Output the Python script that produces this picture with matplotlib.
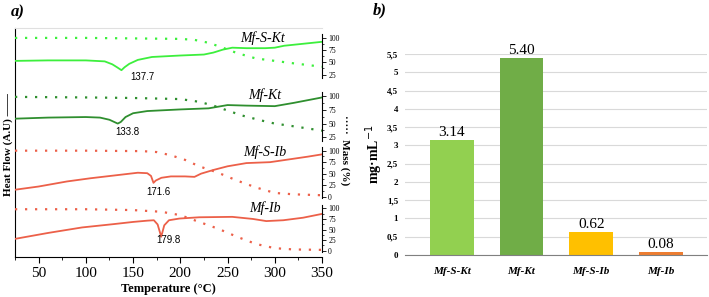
import numpy as np
import matplotlib.pyplot as plt
from matplotlib.ticker import MultipleLocator

plt.rcParams['font.family'] = ['Liberation Serif', 'DejaVu Serif']

# ---- panel a: DSC / TGA traces (T in °C) ----
samples = ['Mf-S-Kt', 'Mf-Kt', 'Mf-S-Ib', 'Mf-Ib']
peaks = [137.7, 133.8, 171.6, 179.8]
colors_a = ['#3def3d', '#2f8f2f', '#ec6049', '#ec6049']

hf_t1 = [25, 60, 100, 120, 128, 133, 137.7, 141, 146, 155, 170, 200, 225, 235, 245, 255, 270, 290, 300, 310, 330, 350]
hf_v1 = [53, 54, 54, 52, 46, 40, 34, 40, 47, 55, 61, 64, 66, 70, 76, 80, 79, 79, 80, 84, 88, 92]
hf_t2 = [25, 60, 100, 115, 125, 130, 133.8, 137, 142, 150, 165, 200, 230, 240, 250, 270, 300, 320, 350]
hf_v2 = [59, 61, 62, 61, 57, 53, 50, 53, 62, 69, 73, 76, 78, 81, 84, 83, 82, 88, 98]
hf_t3 = [25, 50, 80, 105, 130, 155, 165, 169, 171.6, 174, 180, 190, 205, 215, 222, 235, 250, 270, 295, 315, 335, 350]
hf_v3 = [15, 22, 33, 40, 46, 52, 51, 45, 30, 35, 41, 44, 44, 43, 50, 58, 66, 73, 75, 81, 87, 92]
hf_t4 = [25, 60, 96, 130, 150, 165, 172, 176, 179.8, 183, 188, 199, 220, 255, 277, 291, 309, 330, 350]
hf_v4 = [28, 42, 55, 63, 68, 71, 72, 62, 33, 60, 72, 76, 79, 80, 75, 70, 72, 78, 87]

m_t1 = [25, 100, 150, 200, 215, 230, 245, 260, 280, 300, 320, 350]
m_v1 = [100, 100, 99, 98, 96, 90, 80, 69, 58, 53, 48, 41]
m_t2 = [25, 100, 150, 200, 220, 235, 250, 265, 285, 300, 320, 350]
m_v2 = [99, 98, 97, 95, 90, 83, 74, 65, 56, 50, 45, 37]
m_t3 = [25, 100, 160, 175, 190, 205, 220, 240, 260, 280, 300, 320, 350]
m_v3 = [100, 100, 99, 97, 90, 80, 66, 52, 35, 20, 8, 5, 3]
m_t4 = [25, 100, 150, 180, 200, 220, 240, 260, 280, 300, 320, 350]
m_v4 = [98, 98, 96, 92, 84, 68, 52, 33, 16, 6, 3, 2]

hf_t = [hf_t1, hf_t2, hf_t3, hf_t4]
hf_v = [hf_v1, hf_v2, hf_v3, hf_v4]
m_t = [m_t1, m_t2, m_t3, m_t4]
m_v = [m_v1, m_v2, m_v3, m_v4]

# ---- panel b: solubility ----
bar_labels = ['Mf-S-Kt', 'Mf-Kt', 'Mf-S-Ib', 'Mf-Ib']
bar_values = [3.14, 5.40, 0.62, 0.08]
bar_colors = ['#92d050', '#70ad47', '#ffc000', '#ed7d31']

W, H = 709, 297
fig = plt.figure(figsize=(W / 100, H / 100), dpi=100)

def frac(x0, y0, x1, y1):
    # pixel box -> figure fraction
    return [x0 / W, 1 - y1 / H, (x1 - x0) / W, (y1 - y0) / H]

ax = fig.add_axes(frac(15, 28, 322, 257))
ax.set_xlim(25, 350)
ax.set_yticks([])
ax.xaxis.set_major_locator(MultipleLocator(50))
ax.xaxis.set_minor_locator(MultipleLocator(25))
ax.tick_params(axis='x', labelsize=11, length=4, width=0.8)
ax.tick_params(axis='x', which='minor', length=2.5)
ax.spines['right'].set_visible(False)
ax.spines['top'].set_color('#e0e0e0')
ax.set_xlabel('Temperature (°C)', fontsize=9, fontweight='bold', labelpad=2)

# band axes (pixel y of top/bottom, ylim)
bands = [(34, 78, 18, 108, [25, 50, 75, 100]),
         (92, 141, 18, 108, [25, 50, 75, 100]),
         (147, 198, -3, 108, [0, 25, 50, 75, 100]),
         (205, 252, -3, 108, [0, 25, 50, 75, 100])]
label_pos = [(263, 38), (265, 95), (265, 152), (265, 208)]
peak_pos = [(142, 77), (127, 132), (158, 192), (168, 240)]

for i, (y0, y1, lo, hi, ticks) in enumerate(bands):
    b = fig.add_axes(frac(15, y0, 322, y1))
    b.set_xlim(25, 350)
    b.patch.set_alpha(0)
    for s in ['left', 'top', 'bottom']:
        b.spines[s].set_visible(False)
    b.spines['right'].set_linewidth(0.8)
    b.set_ylim(lo, hi)
    b.set_xticks([])
    b.yaxis.tick_right()
    b.set_yticks(ticks)
    b.yaxis.set_minor_locator(MultipleLocator(12.5))
    b.tick_params(axis='y', labelsize=5.5, length=3, width=0.6, pad=1.5)
    b.tick_params(axis='y', which='minor', length=1.5, width=0.5)
    b.plot(hf_t[i], hf_v[i], color=colors_a[i], lw=1.3)
    b.plot(m_t[i], m_v[i], color=colors_a[i], lw=1.6, ls=(0, (1, 3.5)))

for i in range(4):
    fig.text(label_pos[i][0] / W, 1 - label_pos[i][1] / H, samples[i],
             fontsize=10, style='italic', ha='center', va='center')
    fig.text(peak_pos[i][0] / W, 1 - peak_pos[i][1] / H, f'{peaks[i]:.1f}',
             fontsize=7, family='Liberation Sans', ha='center', va='center')

fig.text(8 / W, 1 - 145 / H, 'Heat Flow (A.U) ——', rotation=90, fontsize=8,
         fontweight='bold', ha='center', va='center')
fig.text(345 / W, 1 - 150 / H, '·····  Mass (%)', rotation=270, fontsize=8,
         fontweight='bold', ha='center', va='center')
fig.text(18 / W, 1 - 12 / H, 'a)', fontsize=12, fontweight='bold', style='italic',
         ha='center', va='center')
fig.text(380 / W, 1 - 10 / H, 'b)', fontsize=12, fontweight='bold', style='italic',
         ha='center', va='center')

# ---- panel b ----
bx = fig.add_axes(frac(405, 54, 707, 255))
x = np.arange(len(bar_labels))
bx.bar(x, bar_values, width=0.63, color=bar_colors, zorder=2)
for xi, v in zip(x, bar_values):
    bx.text(xi, v + 0.03, f'{v:.2f}', ha='center', va='bottom', fontsize=11)
bx.set_xlim(-0.67, 3.66)
bx.set_ylim(0, 5.5)
yt = np.arange(0, 5.51, 0.5)
bx.set_yticks(yt)
bx.set_yticklabels([f'{t:g}'.replace('.', ',') for t in yt], fontsize=6.5, fontweight='bold')
bx.set_xticks(x)
bx.set_xticklabels(bar_labels, fontsize=8, fontweight='bold', style='italic')
bx.tick_params(axis='x', length=0, pad=9)
bx.tick_params(axis='y', length=0, pad=5)
bx.grid(axis='y', color='#d9d9d9', lw=0.8, zorder=0)
for s in ['left', 'top', 'right']:
    bx.spines[s].set_visible(False)
bx.spines['bottom'].set_color('#808080')
bx.set_ylabel('mg·mL$^{-1}$', fontsize=10, fontweight='bold', labelpad=1)

fig.savefig('out.png', dpi=100)
